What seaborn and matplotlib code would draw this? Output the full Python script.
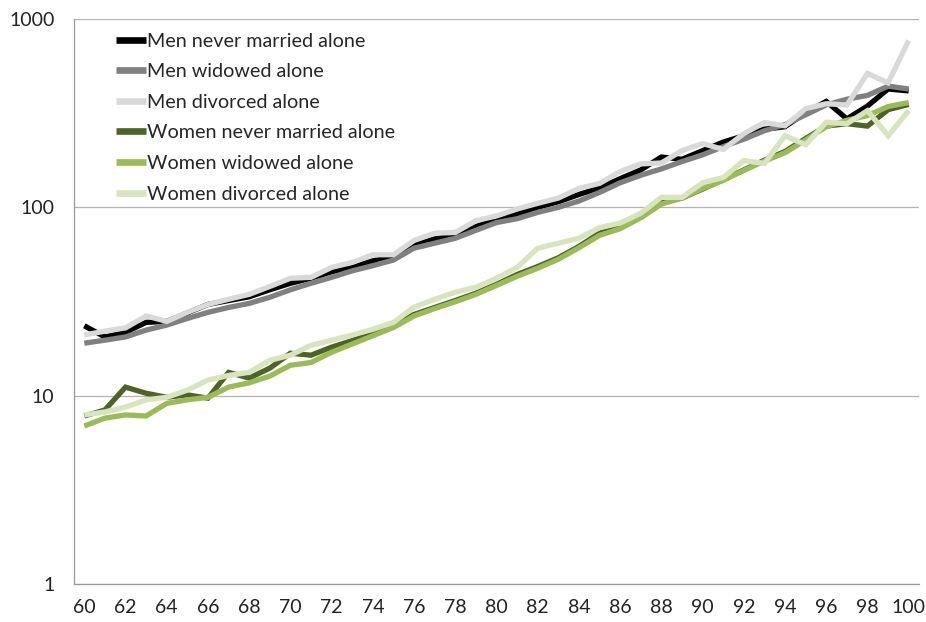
import numpy as np
import pandas as pd
import matplotlib
matplotlib.use("Agg")
import matplotlib.pyplot as plt
import seaborn as sns
from matplotlib.ticker import FixedLocator, NullLocator

ages = list(range(60, 101))

men_never_married = [23.5, 20.5, 21.7, 24.5, 24.8, 27.5, 30.5, 32, 33.5, 36.5,
                     39.5, 42, 45.5, 48, 52, 54.5, 63, 68, 71, 79,
                     86, 92, 100, 107, 117, 127, 142, 158, 185, 180,
                     200, 222, 240, 260, 268, 318, 365, 295, 345, 425, 415]
men_widowed = [19, 19.7, 20.5, 22.3, 23.7, 25.7, 27.7, 29.4, 30.9, 33.3,
               36.5, 39.5, 42.5, 46, 49, 52.5, 60.7, 64.5, 68.5, 75.5,
               83, 87, 94, 100, 108, 120, 135, 148, 160, 175,
               190, 210, 230, 255, 275, 310, 350, 375, 393, 440, 425]
men_divorced = [21, 22, 22.9, 26.5, 24.8, 27.7, 30.5, 32.5, 34.5, 38,
                42, 42.5, 48, 51, 56, 56, 66.7, 72.9, 73.5, 85,
                90, 98, 105, 112, 126, 134, 155, 170, 172, 200,
                218, 203, 246, 282, 271, 334, 355, 349, 514, 458, 769]
women_never_married = [7.8, 8.4, 11.1, 10.3, 9.8, 10.1, 9.7, 13.3, 12.4, 14,
                       16.8, 16.4, 18.1, 19.6, 21.5, 23.4, 27, 29.4, 32, 35,
                       39, 44, 48.5, 54, 62, 73, 78, 89, 106, 112,
                       125, 140, 158, 178, 198, 232, 270, 278, 270, 330, 352]
women_widowed = [6.9, 7.6, 7.9, 7.8, 9.1, 9.5, 9.8, 11.1, 11.7, 12.7,
                 14.5, 15, 17, 18.8, 20.8, 23, 26.5, 29, 31.5, 34.5,
                 38.5, 43, 47.5, 53, 61, 71, 77, 88, 104, 112,
                 126, 139, 157, 176, 195, 228, 268, 290, 307, 343, 360]
women_divorced = [7.9, 8.2, 8.7, 9.5, 9.8, 10.7, 12.1, 12.8, 13.3, 15.4,
                  16.4, 18.5, 19.7, 21, 22.5, 24.5, 29.5, 32.5, 35.4, 37.6,
                  42, 48, 60.7, 64.5, 68.5, 78, 82.5, 93, 113, 113,
                  135, 144, 177, 171, 240, 215, 283, 278, 326, 240, 326]

series_names = ["Men never married alone", "Men widowed alone", "Men divorced alone",
                "Women never married alone", "Women widowed alone", "Women divorced alone"]
series_values = [men_never_married, men_widowed, men_divorced,
                 women_never_married, women_widowed, women_divorced]
colors = ["#000000", "#808080", "#d9d9d9", "#4f6228", "#9bbb59", "#d7e4bd"]

y_ticks = [1, 10, 100, 1000]
x_tick_labels = [str(a) for a in range(60, 101, 2)]

df = pd.concat([pd.DataFrame({"age": ages, "value": v, "series": n})
                for n, v in zip(series_names, series_values)], ignore_index=True)

sns.set_style("white")
plt.rcParams['font.family'] = ['Lato', 'DejaVu Sans']

fig = plt.figure(figsize=(9.26, 6.22), dpi=100)
ax = fig.add_axes([74 / 926, 1 - 584 / 622, (919 - 74) / 926, (584 - 19) / 622])

sns.lineplot(data=df, x="age", y="value", hue="series", hue_order=series_names,
             palette=dict(zip(series_names, colors)), linewidth=3.8, ax=ax,
             legend=True)
for line in ax.get_lines():
    line.set_solid_capstyle("butt")
    line.set_solid_joinstyle("miter")

ax.set_yscale("log")
ax.set_ylim(1, 1000)
ax.set_xlim(59.5, 100.5)
ax.yaxis.set_major_locator(FixedLocator(y_ticks))
ax.yaxis.set_minor_locator(NullLocator())
ax.set_yticklabels([str(t) for t in y_ticks])
ax.yaxis.grid(True, color="#b3b3b3", linewidth=0.9)
ax.set_axisbelow(True)

ax.set_xticks(list(range(60, 101, 2)))
ax.set_xticklabels(x_tick_labels)
ax.set_xticks(np.arange(59.5, 101, 1), minor=True)
ax.tick_params(axis="x", which="major", length=0, pad=11, labelsize=14, colors="#222222")
ax.tick_params(axis="x", which="minor", length=5, width=0.9, color="#999999", direction="out")
ax.tick_params(axis="y", which="major", length=6, width=0.9, color="#999999",
               pad=8, labelsize=14, labelcolor="#222222", direction="out")

for s in ["top", "right"]:
    ax.spines[s].set_visible(False)
for s in ["left", "bottom"]:
    ax.spines[s].set_color("#999999")
    ax.spines[s].set_linewidth(0.9)

ax.set_xlabel("")
ax.set_ylabel("")

handles, labels = ax.get_legend_handles_labels()
leg = ax.legend(handles, labels, loc="upper left", bbox_to_anchor=(0.04, 0.99),
                frameon=False, fontsize=14.2, handlelength=1.55, handletextpad=0.05,
                labelspacing=0.69, borderaxespad=0)
for h in leg.get_lines():
    h.set_linewidth(4.8)

fig.savefig("out.png", dpi=100)
